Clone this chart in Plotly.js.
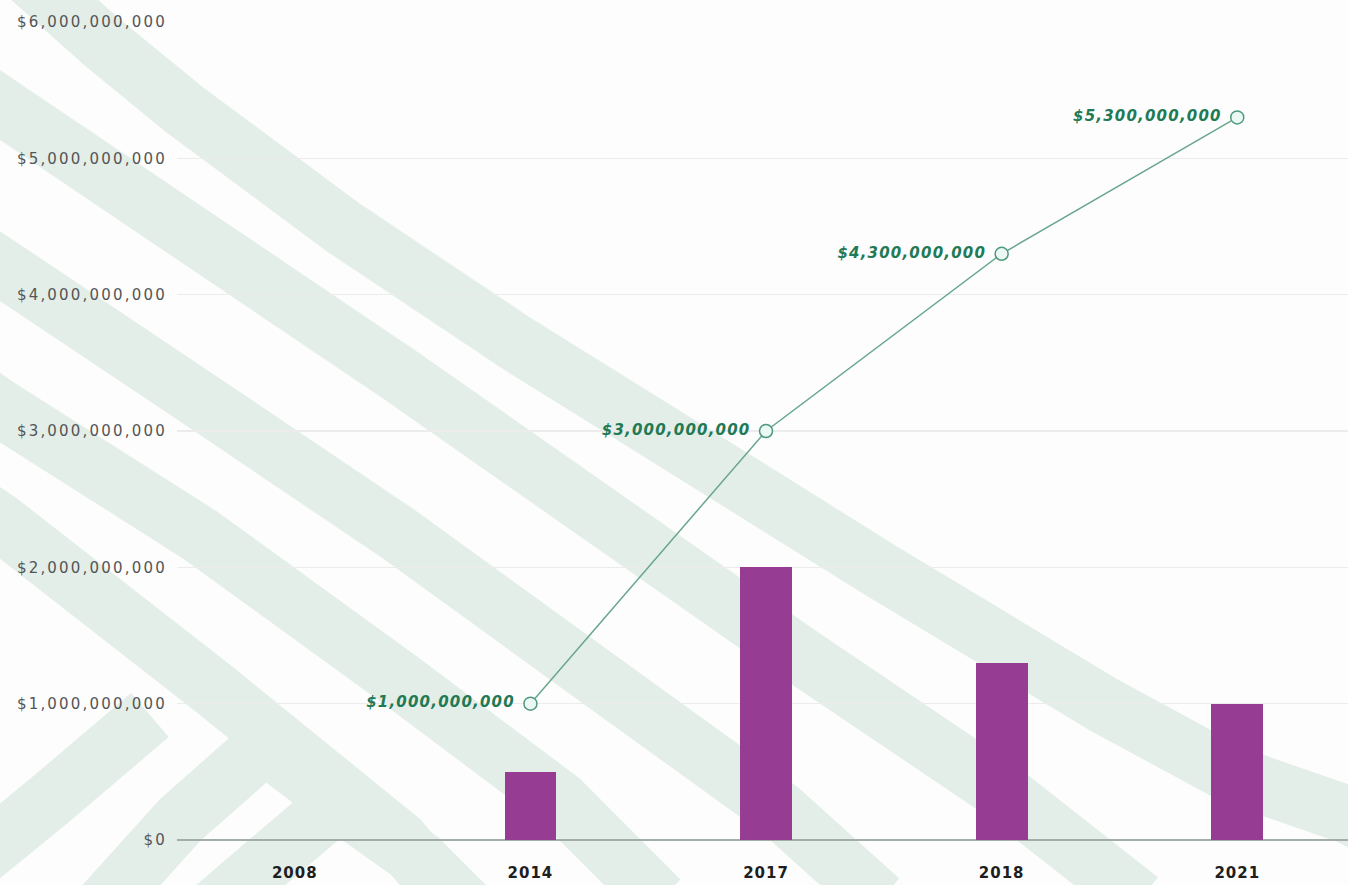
<!DOCTYPE html>
<html>
<head>
<meta charset="utf-8">
<script src="https://cdn.plot.ly/plotly-3.0.1.min.js"></script>
<style>
  html, body { margin: 0; padding: 0; background: #fdfdfd; }
  #chart { width: 1348px; height: 885px; }
  #chart .ytick text { letter-spacing: 2.2px; }
  #chart .xtick text { letter-spacing: 1px; }
  #chart .textpoint text { letter-spacing: 1.2px; }
</style>
</head>
<body>
<div id="chart"></div>
<script>
// ---- data ----
const categories = ['2008', '2014', '2017', '2018', '2021'];
const barValues  = [null, 500000000, 2000000000, 1300000000, 1000000000];
const lineValues = [null, 1000000000, 3000000000, 4300000000, 5300000000];
const yTickValues = [0, 1000000000, 2000000000, 3000000000, 4000000000, 5000000000, 6000000000];

function money(v) { return v == null ? '' : '$' + v.toLocaleString('en-US'); }
const yTickText = yTickValues.map(money);
const lineLabels = lineValues.map(v => v == null ? '' : money(v) + '\u00a0');

// ---- layout geometry ----
const W = 1348, H = 885;
const M = { l: 177, r: 0, t: 22, b: 45 };
const PW = W - M.l - M.r, PH = H - M.t - M.b;

// decorative background brush stripes (pixel points -> paper coords)
function px(x, y) { return ((x - M.l) / PW).toFixed(4) + ',' + ((H - M.b - y) / PH).toFixed(4); }
function pathFrom(pts) { return 'M' + pts.map(p => px(p[0], p[1])).join(' L'); }
const stripes = [
  [[10,-40],[103,43],[185,110],[344,228],[516,343],[640,420],[880,570],[1104,705],[1233,775],[1348,815],[1420,850]],
  [[-40,78],[0,105],[200,240],[400,375],[600,515],[800,655],[1000,790],[1140,900]],
  [[-40,240],[0,266],[200,400],[400,535],[600,680],[780,810],[880,900]],
  [[-40,380],[0,408],[200,535],[400,680],[560,800],[660,900]],
  [[-40,495],[0,522],[215,690],[400,840],[450,900]],
  [[-60,890],[50,800],[150,715]],
  [[90,920],[180,820],[265,745],[350,810],[420,860],[470,910]],
  [[200,920],[270,860],[335,805]]
];
const shapes = stripes.map(pts => ({
  type: 'path', xref: 'paper', yref: 'paper', layer: 'below',
  path: pathFrom(pts),
  line: { color: '#e3eee8', width: 58 }
}));

const barTrace = {
  type: 'bar',
  x: categories,
  y: barValues,
  width: 0.22,
  marker: { color: '#963c92' },
  hoverinfo: 'x+y',
  showlegend: false
};

const lineTrace = {
  type: 'scatter',
  mode: 'lines+markers+text',
  x: categories,
  y: lineValues,
  text: lineLabels,
  textposition: 'middle left',
  textfont: { family: 'DejaVu Sans', size: 15, color: '#1f7a55', weight: 700, style: 'italic' },
  line: { color: '#68a68d', width: 1.5 },
  marker: { size: 13, color: '#ecf8f3', line: { color: '#4e9a7c', width: 1.5 } },
  cliponaxis: false,
  showlegend: false
};

const layout = {
  width: W, height: H,
  margin: M,
  paper_bgcolor: '#fdfdfd',
  plot_bgcolor: 'rgba(0,0,0,0)',
  showlegend: false,
  bargap: 0,
  shapes: shapes,
  xaxis: {
    type: 'category',
    categoryorder: 'array',
    categoryarray: categories,
    range: [-0.5, 4.47],
    showgrid: false,
    zeroline: false,
    showline: false,
    ticks: '',
    ticklabelstandoff: 22,
    tickfont: { family: 'DejaVu Sans', size: 15, color: '#1e1e1e', weight: 700 },
    fixedrange: true
  },
  yaxis: {
    range: [0, 6000000000],
    tickmode: 'array',
    tickvals: yTickValues,
    ticktext: yTickText,
    showgrid: true,
    gridcolor: '#ececec',
    gridwidth: 1.5,
    zeroline: true,
    zerolinecolor: '#a3aea8',
    zerolinewidth: 1.5,
    showline: false,
    ticks: '',
    ticklabelstandoff: 9,
    tickfont: { family: 'DejaVu Sans', size: 15, color: '#555555' },
    fixedrange: true
  }
};

Plotly.newPlot('chart', [barTrace, lineTrace], layout, { displayModeBar: false, staticPlot: true });
</script>
</body>
</html>
